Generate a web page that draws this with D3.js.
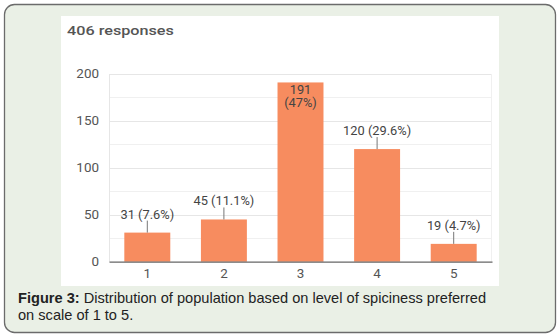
<!DOCTYPE html>
<html><head><meta charset="utf-8">
<script src="https://cdn.jsdelivr.net/npm/d3@7"></script>
<style>html,body{margin:0;padding:0;background:#fff;}svg{display:block;}</style>
</head><body>
<svg id="c" width="560" height="336"></svg>
<script>
const categories = ["1", "2", "3", "4", "5"];
const counts = [31, 45, 191, 120, 19];
const percents = ["7.6%", "11.1%", "47%", "29.6%", "4.7%"];
const yTicks = [0, 50, 100, 150, 200];
const gridTicks = [25, 50, 75, 100, 125, 150, 175, 200];
const title = "406 responses";
const captionBold = "Figure 3:";
const captionLine1 = " Distribution of population based on level of spiciness preferred";
const captionLine2 = "on scale of 1 to 5.";

const svg = d3.select("#c");
svg.append("rect").attr("x", 4.5).attr("y", 4.5).attr("width", 551).attr("height", 328)
  .attr("rx", 10).attr("fill", "#eaf0e6").attr("stroke", "#6b6b6b").attr("stroke-width", 1.3);
svg.append("rect").attr("x", 61).attr("y", 16).attr("width", 438).attr("height", 270).attr("fill", "#fff");

function stretchText(sel, s) {
  sel.each(function() {
    const t = d3.select(this);
    const x = +t.attr("x") || 0, y = +t.attr("y") || 0;
    t.attr("x", 0).attr("y", 0).attr("transform", `translate(${x},${y}) scale(${s},1)`);
  });
}

const titleEl = svg.append("text").attr("x", 67).attr("y", 35).text(title)
  .attr("font-family", "Roboto, sans-serif").attr("font-size", 13.5).attr("font-weight", 500).attr("fill", "#555");
stretchText(titleEl, 1.2);

const L = 109, R = 492, T = 74, B = 261.7;
const x = d3.scaleBand().domain(categories).range([L, R]).paddingInner(0.4).paddingOuter(0.2);
const y = d3.scaleLinear().domain([0, 200]).range([B, T]);

const g = svg.append("g");
g.selectAll("line.grid").data(gridTicks).join("line")
  .attr("x1", L).attr("x2", R).attr("y1", d => Math.round(y(d)) + 0.5).attr("y2", d => Math.round(y(d)) + 0.5)
  .attr("stroke", d => d % 50 === 0 ? "#e6e6e6" : "#f0f0f0").attr("stroke-width", 1);
g.append("line").attr("x1", L + 0.5).attr("x2", L + 0.5).attr("y1", T).attr("y2", B).attr("stroke", "#e6e6e6");
g.append("line").attr("x1", R - 0.5).attr("x2", R - 0.5).attr("y1", T).attr("y2", B).attr("stroke", "#f0f0f0");

const tickScale = 1.12;
const yAxis = d3.axisLeft(y).tickValues(yTicks).tickSize(0).tickPadding(10 / tickScale);
const ya = svg.append("g").attr("transform", `translate(${L},0)`).call(yAxis);
ya.select(".domain").remove();
ya.selectAll("text").attr("font-family", "Roboto, sans-serif").attr("font-size", 12).attr("fill", "#555")
  .attr("transform", `scale(${tickScale},1)`);

const bars = [];
categories.forEach((c, i) => bars.push({c, v: counts[i], p: percents[i]}));
svg.selectAll("rect.bar").data(bars).join("rect").attr("class", "bar")
  .attr("x", d => x(d.c)).attr("width", x.bandwidth())
  .attr("y", d => y(d.v)).attr("height", d => B - y(d.v)).attr("fill", "#f78c5f");

const xAxis = d3.axisBottom(x).tickSize(0).tickPadding(8);
const xa = svg.append("g").attr("transform", `translate(0,${B})`).call(xAxis);
xa.select(".domain").attr("stroke", "#666").attr("stroke-width", 1.3);
xa.selectAll("text").attr("font-family", "Roboto, sans-serif").attr("font-size", 12).attr("fill", "#555")
  .attr("transform", `scale(${tickScale},1)`);

const lab = svg.append("g").attr("font-family", "Roboto, sans-serif").attr("font-size", 12).attr("fill", "#444");
bars.forEach(d => {
  const cx = x(d.c) + x.bandwidth() / 2;
  const top = y(d.v);
  if (d.v > 150) {
    lab.append("text").attr("x", cx).attr("y", top + 12).attr("text-anchor", "middle").text(String(d.v));
    lab.append("text").attr("x", cx).attr("y", top + 25).attr("text-anchor", "middle").text("(" + d.p + ")");
  } else {
    lab.append("line").attr("x1", cx).attr("x2", cx).attr("y1", top).attr("y2", top - 12).attr("stroke", "#777");
    lab.append("text").attr("x", cx).attr("y", top - 14).attr("text-anchor", "middle").text(d.v + " (" + d.p + ")");
  }
});
stretchText(lab.selectAll("text"), 1.07);

const cap = svg.append("text").attr("font-family", "'Liberation Sans', Arial, sans-serif").attr("font-size", 14.6).attr("fill", "#222");
const t1 = cap.append("tspan").attr("x", 18).attr("y", 303);
t1.append("tspan").attr("font-weight", "bold").text(captionBold);
t1.append("tspan").text(captionLine1);
cap.append("tspan").attr("x", 18).attr("y", 320).text(captionLine2);
</script>
</body></html>
